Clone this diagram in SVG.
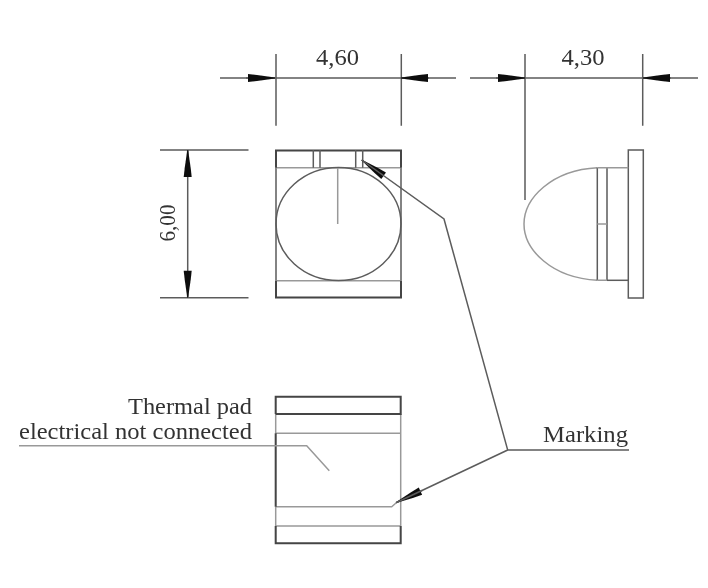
<svg xmlns="http://www.w3.org/2000/svg" width="708" height="588" viewBox="0 0 708 588">
<style>
.l{fill:none;stroke:#5c5c5c;stroke-width:1.5}
.h{fill:none;stroke:#444;stroke-width:2}
.m{fill:none;stroke:#999;stroke-width:1.5}
.t{font-family:"Liberation Serif","Times New Roman",serif;font-size:23px;fill:#333}
</style>
<defs>
<filter id="soft" x="-5%" y="-5%" width="110%" height="110%"><feGaussianBlur stdDeviation="0.55"/></filter>
<marker id="arrow" markerUnits="userSpaceOnUse" markerWidth="30" markerHeight="10" refX="28" refY="5" orient="auto">
<path d="M1,1 L10,2 L28,4.6 V5.4 L10,8 L1,9 Z" fill="#111"/>
</marker>
</defs>
<rect width="708" height="588" fill="#fff"/>
<g filter="url(#soft)">
<g id="front-view">
<path class="l" d="M276 167.7V280.7M401 167.7V280.7"/>
<path class="m" d="M276 167.7H401M276 280.7H401"/>
<path class="h" d="M276 167.7V150.5H401V167.7M276 280.7V297.5H401V280.7"/>
<path class="l" d="M313.3 150V167.7M320 150V167.7M355.7 150V167.7M362.7 150V167.7"/>
<ellipse class="l" cx="338.5" cy="224" rx="62.5" ry="56.5"/>
<path class="m" d="M337.7 168V224"/>
</g>
<g id="side-view">
<rect class="l" x="628.3" y="150" width="15" height="148"/>
<path class="m" d="M597.3 167.7C552 170 524 198 524 224C524 250 552 278 597.3 280.3"/>
<path class="l" d="M597.3 167.7V280.3M607 167.7V280.3"/>
<path class="m" d="M597.3 224H607M597.3 167.7H628.3M597.3 280.3H607"/>
<path class="l" d="M607 280.3H628.3"/>
</g>
<g id="bottom-view">
<path class="m" d="M275.7 414V433.3M275.7 506.7V526M400.7 414V433.3M400.7 506.7V526M275.7 433.3H400.7M275.7 526H400.7M275.7 506.7H391.7L396 503M400.7 433.3V506.7"/>
<path class="h" d="M275.7 414V396.7H400.7V414H275.7M275.7 526V543.3H400.7V526M275.7 433.3V506.7"/>
</g>
<g id="connectors">
<path class="l" d="M276 54V125.7M401.3 54V125.7M220 78H456"/>
<path class="l" d="M525 54V200M642.7 54V125.7M470 78H698"/>
<path class="l" d="M160 150H248.5M160 297.7H248.5M187.7 150V297.7"/>
<g class="l">
<line x1="246" y1="78" x2="275" y2="78" marker-end="url(#arrow)"/>
<line x1="429" y1="78" x2="401" y2="78" marker-end="url(#arrow)"/>
<line x1="496" y1="78" x2="525" y2="78" marker-end="url(#arrow)"/>
<line x1="671" y1="78" x2="643" y2="78" marker-end="url(#arrow)"/>
<line x1="187.7" y1="176" x2="187.7" y2="150" marker-end="url(#arrow)"/>
<line x1="187.7" y1="272" x2="187.7" y2="297.7" marker-end="url(#arrow)"/>
<line x1="382" y1="174.6" x2="361.7" y2="160" marker-end="url(#arrow)"/>
<line x1="422" y1="490.5" x2="396" y2="502.7" marker-end="url(#arrow)"/>
</g>
<path class="l" d="M361.7 160L444 219L507.7 450L396 502.7M507.7 450H629"/>
<path class="m" d="M19 445.7H306.7L329.3 470.7"/>
</g>
<g id="labels">
<text class="t" x="316" y="65" textLength="43" lengthAdjust="spacingAndGlyphs">4,60</text>
<text class="t" x="561.5" y="65" textLength="43" lengthAdjust="spacingAndGlyphs">4,30</text>
<text class="t" transform="translate(175 241.5) rotate(-90)" textLength="37" lengthAdjust="spacingAndGlyphs" style="font-size:24px">6,00</text>
<text class="t" x="128" y="413.5" textLength="124" lengthAdjust="spacingAndGlyphs">Thermal pad</text>
<text class="t" x="19" y="439" textLength="233" lengthAdjust="spacingAndGlyphs">electrical not connected</text>
<text class="t" x="543" y="441.5" textLength="85" lengthAdjust="spacingAndGlyphs">Marking</text>
</g>
</g>
</svg>
